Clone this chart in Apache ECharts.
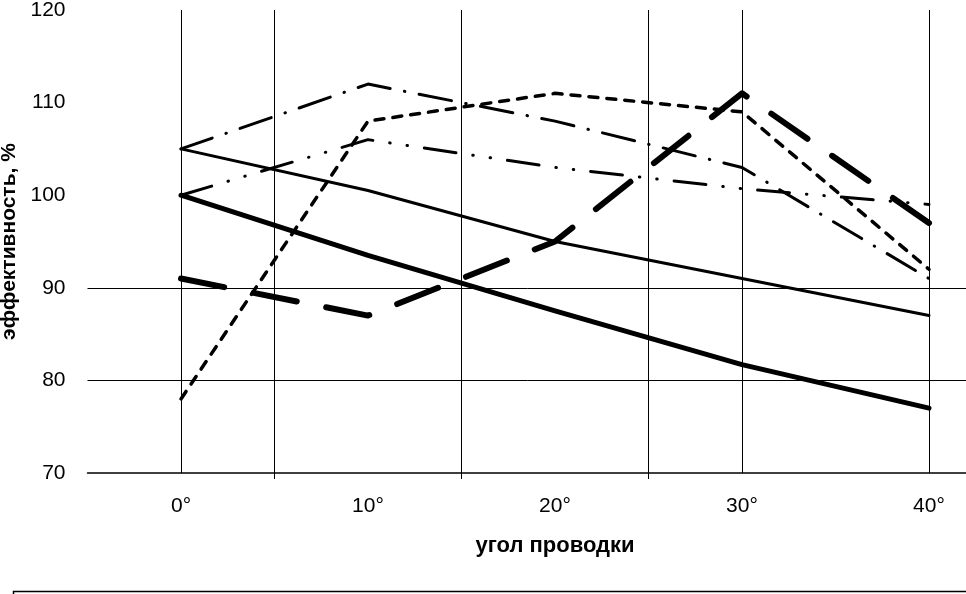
<!DOCTYPE html>
<html>
<head>
<meta charset="utf-8">
<title>эффективность</title>
<script src="https://cdn.jsdelivr.net/npm/echarts@6.0.0/dist/echarts.min.js"></script>
<style>
    html, body { margin: 0; padding: 0; background: #fff; }
    #chart { width: 966px; height: 594px; }
</style>
</head>
<body>
<div id="chart"></div>
<script>
// угол проводки
const angles = ['0°', '10°', '20°', '30°', '40°'];
const yTicks = [70, 80, 90, 100, 110, 120];

// values
const solidThick = [100, 93.5, 87.5, 81.7, 77];
const solidThin = [105, 100.5, 95, 91, 87];
const longDash = [91, 87, 95, 111, 97];
const shortDash = [78, 108, 111, 109, 92];
const dashDot = [105, 112, 108, 103, 91];
const dashDotDot = [100, 106, 103, 100.7, 99];

// which grid lines the original has
const vLines = ['0°', '30°', '40°'];
const hLines = [80, 90];

const font = "'Liberation Sans', Arial, sans-serif";
const chart = echarts.init(document.getElementById('chart'));

function between(index) {
    return index >= 1 && index <= 3;
}

function line(name, data, width, type) {
    return {
        name: name,
        type: 'line',
        data: data,
        symbol: 'none',
        z: 3,
        lineStyle: { color: '#000', width: width, type: type, cap: 'round', join: 'round' }
    };
}

const series = [
    line('s1', solidThick, 5, 'solid'),
    line('s2', solidThin, 3, 'solid'),
    line('s3', longDash, 6, [44, 30]),
    line('s4', shortDash, 3.5, [9, 9]),
    line('s5', dashDot, 3, [33, 14.5, 0.5, 14.5]),
    line('s6', dashDotDot, 3, [32, 17, 0.5, 17, 0.5, 17])
];

series[0].markLine = {
    z: 1,
    silent: true,
    symbol: 'none',
    animation: false,
    label: { show: false },
    lineStyle: { color: '#000', width: 1, type: 'solid' },
    data: vLines.map(v => ({ xAxis: v })).concat(hLines.map(v => ({ yAxis: v })))
};

chart.setOption({
    animation: false,
    backgroundColor: '#fff',
    grid: { left: 87.5, top: 10, width: 935, height: 463, containLabel: false, outerBoundsMode: 'none' },
    xAxis: {
        type: 'category',
        data: angles,
        boundaryGap: true,
        name: 'угол проводки',
        nameLocation: 'middle',
        nameGap: 62,
        nameTextStyle: { color: '#000', fontFamily: font, fontSize: 22, fontWeight: 'bold' },
        axisLine: { show: true, lineStyle: { color: '#000', width: 1.5 } },
        axisTick: { show: true, interval: between, length: 6, lineStyle: { color: '#000', width: 1 } },
        splitLine: { show: true, interval: between, lineStyle: { color: '#000', width: 1 } },
        axisLabel: { interval: 0, margin: 23, color: '#000', fontFamily: font, fontSize: 21 }
    },
    yAxis: {
        type: 'value',
        min: yTicks[0],
        max: yTicks[yTicks.length - 1],
        interval: yTicks[1] - yTicks[0],
        name: 'эффективность, %',
        nameLocation: 'middle',
        nameGap: 65,
        nameRotate: 90,
        nameTextStyle: { color: '#000', fontFamily: font, fontSize: 21, fontWeight: 'bold' },
        axisLine: { show: false },
        axisTick: { show: false },
        splitLine: { show: false },
        axisLabel: { margin: 22, color: '#000', fontFamily: font, fontSize: 21 }
    },
    graphic: [{
        type: 'rect',
        left: 11,
        top: 589,
        shape: { width: 1000, height: 40 },
        style: { fill: 'none', stroke: '#000', lineWidth: 1.5 }
    }],
    series: series
});
</script>
</body>
</html>
